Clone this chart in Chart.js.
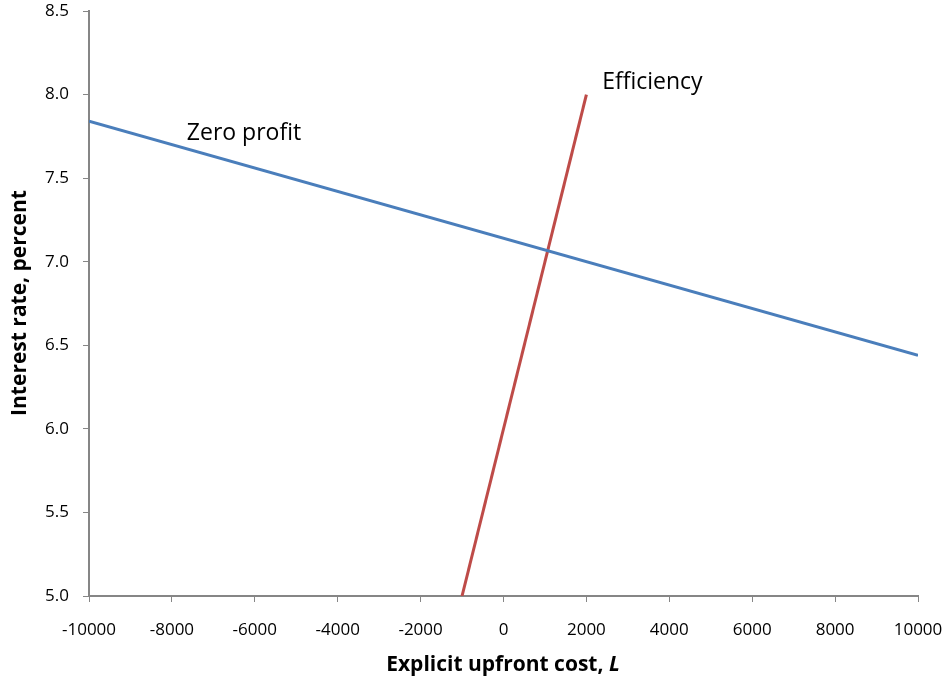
<!DOCTYPE html>
<html>
<head>
<meta charset="utf-8">
<script src="https://cdn.jsdelivr.net/npm/chart.js@4/dist/chart.umd.min.js"></script>
<style>
  html, body { margin: 0; padding: 0; background: #fff; }
  .wrap { width: 943px; height: 681px; position: relative; }
</style>
</head>
<body>
<div class="wrap"><canvas id="chart"></canvas></div>
<script>
const zeroProfitX = [-10000, 10000];
const zeroProfitY = [7.84, 6.44];
const efficiencyX = [-1000, 2000];
const efficiencyY = [5.0, 8.0];

const xMin = -10000, xMax = 10000, xStep = 2000;
const yMin = 5.0, yMax = 8.5, yStep = 0.5;

// text labels placed in data coordinates
const curveLabels = [
    { text: 'Zero profit', x: -7640, y: 7.765 },
    { text: 'Efficiency', x: 2380, y: 8.075 }
];

const FONT = "'Open Sans', 'Liberation Sans', sans-serif";
const axisGray = '#868686';

const toPoints = (xs, ys) => xs.map((x, i) => ({ x, y: ys[i] }));

const labelsPlugin = {
    id: 'labels',
    afterDraw(chart) {
        const { ctx, scales } = chart;
        ctx.save();
        ctx.fillStyle = '#000';
        ctx.font = `23px ${FONT}`;
        ctx.textAlign = 'left';
        ctx.textBaseline = 'middle';
        curveLabels.forEach(l => {
            ctx.fillText(l.text, scales.x.getPixelForValue(l.x), scales.y.getPixelForValue(l.y));
        });

        // x axis title, with the italic L
        ctx.font = `bold 21px ${FONT}`;
        const part1 = 'Explicit upfront cost, ';
        const w1 = ctx.measureText(part1).width;
        ctx.font = `italic bold 21px ${FONT}`;
        const w2 = ctx.measureText('L').width;
        let startX = 503 - (w1 + w2) / 2;
        ctx.font = `bold 21px ${FONT}`;
        ctx.fillText(part1, startX, 665);
        ctx.font = `italic bold 21px ${FONT}`;
        ctx.fillText('L', startX + w1, 665);

        // y axis title
        ctx.translate(20, 303);
        ctx.rotate(-Math.PI / 2);
        ctx.textAlign = 'center';
        ctx.font = `bold 21px ${FONT}`;
        ctx.fillText('Interest rate, percent', 0, 0);
        ctx.restore();
    }
};

new Chart(document.getElementById('chart'), {
    type: 'scatter',
    data: {
        datasets: [
            {
                label: 'Zero profit',
                data: toPoints(zeroProfitX, zeroProfitY),
                showLine: true,
                borderColor: '#4a7ebb',
                borderWidth: 3,
                pointRadius: 0,
                tension: 0
            },
            {
                label: 'Efficiency',
                data: toPoints(efficiencyX, efficiencyY),
                showLine: true,
                borderColor: '#be4b48',
                borderWidth: 3,
                pointRadius: 0,
                tension: 0
            }
        ]
    },
    options: {
        responsive: true,
        maintainAspectRatio: false,
        animation: false,
        layout: { padding: { left: 0, right: 25, top: 11, bottom: 0 } },
        plugins: {
            legend: { display: false },
            tooltip: { enabled: false }
        },
        scales: {
            x: {
                type: 'linear',
                min: xMin,
                max: xMax,
                ticks: { stepSize: xStep, color: '#000', font: { family: FONT, size: 17 }, padding: 18, maxRotation: 0, callback: v => String(v) },
                grid: { drawOnChartArea: false, tickLength: 6, tickColor: axisGray, color: axisGray },
                border: { color: axisGray, width: 2 },
                afterFit(scale) {
                    scale.height = 85;
                    scale.paddingLeft = 0;
                    scale.paddingRight = 0;
                }
            },
            y: {
                min: yMin,
                max: yMax,
                ticks: {
                    stepSize: yStep,
                    color: '#000',
                    font: { family: FONT, size: 17 },
                    padding: 14,
                    callback: v => v.toFixed(1)
                },
                grid: { drawOnChartArea: false, tickLength: 6, tickColor: axisGray, color: axisGray },
                border: { color: axisGray, width: 2 },
                afterFit(scale) {
                    scale.width = 89;
                    scale.paddingTop = 0;
                    scale.paddingBottom = 0;
                }
            }
        }
    },
    plugins: [labelsPlugin]
});
</script>
</body>
</html>
